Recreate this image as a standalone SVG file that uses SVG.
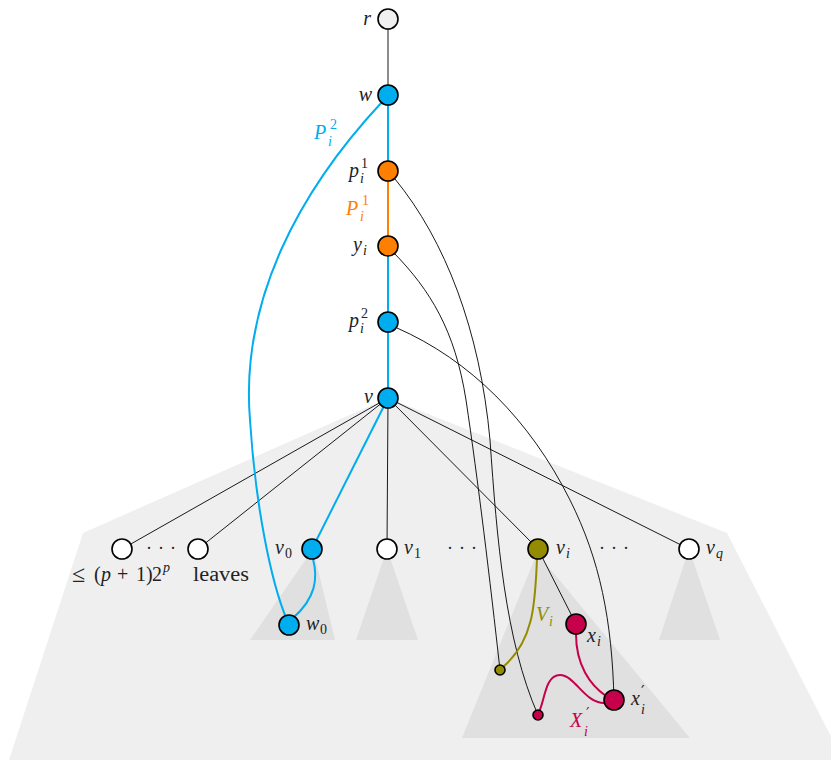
<svg xmlns="http://www.w3.org/2000/svg" width="831" height="760" viewBox="0 0 831 760">
<style>
.bg{fill:#efefef;stroke:none}
.tri{fill:#e0e0e0;stroke:none}
.e{fill:none;stroke:#000;stroke-width:0.9}
.eb{fill:none;stroke:#00adef;stroke-width:2}
.eo{fill:none;stroke:#ff8000;stroke-width:2}
.eol{fill:none;stroke:#948c00;stroke-width:2}
.ec{fill:none;stroke:#c6004b;stroke-width:2}
.n{stroke:#000;stroke-width:1.6}
.white{fill:#fff}
.grey{fill:#f0f0f0}
.blue{fill:#00adef}
.orange{fill:#ff8000}
.olive{fill:#948c00}
.crim{fill:#c6004b}
text{font-family:"Liberation Serif","DejaVu Serif",serif;font-size:20px;fill:#222}
.it{font-style:italic}
.up{font-style:normal}
.s{font-size:14px}
.pr{font-family:"DejaVu Serif",serif;font-size:16px;font-style:normal}
.dots{font-size:18px;letter-spacing:6px}
.cb{fill:#00adef}
.co{fill:#ff8000}
.col{fill:#948c00}
.cc{fill:#c6004b}
</style>
<g id="background">
<polygon class="bg" points="388,398 727,533 843,760 9,760 83,533"/>
<polygon class="tri" points="313,549 335,640 250,640"/>
<polygon class="tri" points="387,549 418,640 356,640"/>
<polygon class="tri" points="537,553 690,738 462,738"/>
<polygon class="tri" points="689,549 720,640 659,640"/>
</g>
<g id="connectors">
<line class="e" x1="388" y1="19" x2="388" y2="95"/>
<line class="eb" x1="388" y1="95" x2="388" y2="171"/>
<line class="eo" x1="388" y1="171" x2="388" y2="246"/>
<line class="eb" x1="388" y1="246" x2="388" y2="398"/>
<line class="e" x1="388" y1="398" x2="122" y2="549"/>
<line class="e" x1="388" y1="398" x2="198" y2="549"/>
<line class="eb" x1="388" y1="398" x2="312" y2="549"/>
<line class="e" x1="388" y1="398" x2="387" y2="549"/>
<line class="e" x1="388" y1="398" x2="538" y2="549"/>
<line class="e" x1="388" y1="398" x2="689" y2="549"/>
<line class="e" x1="538" y1="549" x2="576" y2="624"/>
<path class="eb" d="M382,102 C300,190 240,300 250,420 C255,500 270,580 287,620"/>
<path class="eb" d="M313,559 C318,578 316,598 293,618"/>
<path class="e" d="M395,179 C445,240 480,330 490,440 C497,540 505,640 538,715"/>
<path class="e" d="M394,253 C430,290 455,330 466,400 C478,480 490,580 500,670"/>
<path class="e" d="M397,328 C470,360 530,420 570,500 C600,560 612,620 614,700"/>
<path class="eol" d="M537,559 C535,600 535,640 503,667"/>
<path class="ec" d="M576,634 C576,665 590,685 606,696"/>
<path class="ec" d="M605,703 C585,704 575,675 560,675 C545,675 545,700 539,712"/>
</g>
<g id="node-r"><circle class="n grey" cx="388" cy="19" r="10"/><text class="it" x="371" y="25" text-anchor="end">r</text></g>
<g id="node-w"><circle class="n blue" cx="388" cy="95" r="10"/><text class="it" x="372" y="101" text-anchor="end">w</text></g>
<g id="node-p1"><circle class="n orange" cx="388" cy="171" r="10"/><text class="it" x="349" y="177">p<tspan class="s up" x="361" y="168">1</tspan><tspan class="s" x="360" y="183">i</tspan></text></g>
<g id="node-yi"><circle class="n orange" cx="388" cy="246" r="10"/><text class="it" x="353" y="251">y<tspan class="s" x="363" y="255">i</tspan></text></g>
<g id="node-p2"><circle class="n blue" cx="388" cy="322" r="10"/><text class="it" x="349" y="327">p<tspan class="s up" x="361" y="318">2</tspan><tspan class="s" x="360" y="333">i</tspan></text></g>
<g id="node-v"><circle class="n blue" cx="388" cy="398" r="10"/><text class="it" x="373" y="403" text-anchor="end">v</text></g>
<g id="node-leaf1"><circle class="n white" cx="122" cy="549" r="10"/></g>
<g id="node-leaf2"><circle class="n white" cx="198" cy="549" r="10"/></g>
<g id="node-v0"><circle class="n blue" cx="312" cy="549" r="10"/><text class="it" x="275" y="554">v<tspan class="s up" x="285" y="558">0</tspan></text></g>
<g id="node-v1"><circle class="n white" cx="387" cy="549" r="10"/><text class="it" x="404" y="554">v<tspan class="s up" x="414" y="558">1</tspan></text></g>
<g id="node-vi"><circle class="n olive" cx="538" cy="549" r="10"/><text class="it" x="556" y="554">v<tspan class="s" x="566" y="558">i</tspan></text></g>
<g id="node-vq"><circle class="n white" cx="689" cy="549" r="10"/><text class="it" x="706" y="554">v<tspan class="s" x="716" y="558">q</tspan></text></g>
<g id="node-w0"><circle class="n blue" cx="289" cy="625" r="10"/><text class="it" x="306" y="630">w<tspan class="s up" x="320" y="634">0</tspan></text></g>
<g id="node-xi"><circle class="n crim" cx="576" cy="624" r="10"/><text class="it" x="587" y="642">x<tspan class="s" x="597" y="646">i</tspan></text></g>
<g id="node-xi2"><circle class="n crim" cx="614" cy="700" r="10"/><text class="it" x="631" y="705">x<tspan class="pr" x="641" y="697">′</tspan><tspan class="s" x="641" y="714">i</tspan></text></g>
<g id="node-dot-olive"><circle class="n olive" cx="500" cy="670" r="5" stroke-width="1"/></g>
<g id="node-dot-crim"><circle class="n crim" cx="538" cy="715" r="5" stroke-width="1"/></g>
<g id="labels">
<text class="it cb" x="314" y="139">P<tspan class="s up" x="330" y="129">2</tspan><tspan class="s" x="328" y="146">i</tspan></text>
<text class="it co" x="346" y="215">P<tspan class="s up" x="362" y="205">1</tspan><tspan class="s" x="360" y="221">i</tspan></text>
<text class="it col" x="536" y="621">V<tspan class="s" x="549" y="626">i</tspan></text>
<text class="it cc" x="570" y="727">X<tspan class="pr" x="586" y="719">′</tspan><tspan class="s" x="584" y="736">i</tspan></text>
<text class="dots" x="146" y="554">···</text>
<text class="dots" x="447" y="554">···</text>
<text class="dots" x="599" y="554">···</text>
<text x="72" y="581"><tspan style="font-size:24px" y="582">≤</tspan><tspan x="94" y="581">(</tspan><tspan class="it" x="101">p</tspan><tspan x="117">+</tspan><tspan x="136">1</tspan><tspan x="146">)</tspan><tspan x="152">2</tspan><tspan class="s it" x="163" y="572">p</tspan></text><text x="193" y="581" textLength="56" lengthAdjust="spacingAndGlyphs">leaves</text>
</g>
</svg>
